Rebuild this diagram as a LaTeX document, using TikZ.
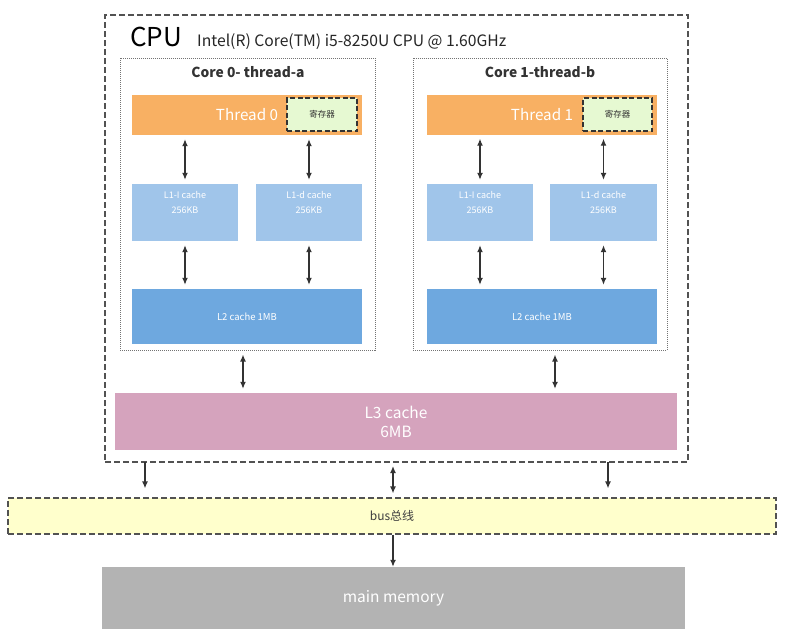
\documentclass[tikz,border=0pt]{standalone}
\usepackage{fontspec}
\setmainfont{Noto Sans CJK SC}
\usetikzlibrary{arrows.meta}

\definecolor{threadorange}{HTML}{F8B063}
\definecolor{regfill}{HTML}{E6F9D2}
\definecolor{lonecolor}{HTML}{A0C5EA}
\definecolor{ltwocolor}{HTML}{6EA8DF}
\definecolor{lthreecolor}{HTML}{D5A3BD}
\definecolor{busfill}{HTML}{FFFFCC}
\definecolor{memgray}{HTML}{B3B3B3}
\definecolor{linegray}{HTML}{333333}

\begin{document}
\begin{tikzpicture}[x=1pt, y=-1pt,
    box/.style={rectangle, inner sep=0pt, draw=none, text=white, align=center},
    corebox/.style={rectangle, inner sep=0pt, draw=black!55, line width=1pt, dash pattern=on 1pt off 1pt},
    regbox/.style={rectangle, inner sep=0pt, draw=linegray, fill=regfill, line width=1.4pt,
        dash pattern=on 5pt off 2.5pt, text=linegray, font=\fontsize{8.5}{10}\selectfont},
    link/.style={{Latex[length=7pt,width=6pt]}-{Latex[length=7pt,width=6pt]},
        line width=1.3pt, draw=linegray, shorten >=4pt, shorten <=4pt},
    down/.style={-{Latex[length=7pt,width=6pt]}, line width=1.3pt, draw=linegray},
    lonefont/.style={font=\fontsize{9}{15}\selectfont},
]
    \fill[white] (0,0) rectangle (786,641);
    \useasboundingbox (0,0) rectangle (786,641);

    % CPU package
    \node[rectangle, inner sep=0pt, draw=linegray!85, line width=1.2pt, dash pattern=on 6pt off 3pt,
        minimum width=583pt, minimum height=447pt] (cpu) at (396.5,238.5) {};
    \node[anchor=base west, inner sep=0pt, font=\fontsize{26}{28}\selectfont] (cpulabel) at (130,46) {CPU};
    \node[anchor=base west, inner sep=0pt, text=black!85, font=\fontsize{15.7}{17}\selectfont] (cpumodel) at (197,46) {Intel(R) Core(TM) i5-8250U CPU @ 1.60GHz};

    % cores
    \node[corebox, minimum width=255pt, minimum height=292pt] (core0) at (247.5,204) {};
    \node[corebox, minimum width=254pt, minimum height=292pt] (core1) at (540,204) {};
    \node[text=black!80, font=\bfseries\fontsize{13.8}{15}\selectfont] (core0title) at (248,72) {Core 0- thread-a};
    \node[text=black!80, font=\bfseries\fontsize{13.8}{15}\selectfont] (core1title) at (540,72) {Core 1-thread-b};

    \node[box, fill=threadorange, minimum width=230pt, minimum height=40pt, font=\fontsize{15.2}{17}\selectfont] (t0) at (247,115) {Thread 0};
    \node[box, fill=threadorange, minimum width=230pt, minimum height=40pt, font=\fontsize{15.2}{17}\selectfont] (t1) at (542,114.5) {Thread 1};
    \node[regbox, minimum width=70pt, minimum height=33pt] (reg0) at (322,114.5) {寄存器};
    \node[regbox, minimum width=69pt, minimum height=33pt] (reg1) at (617.5,114.5) {寄存器};

    \node[box, fill=lonecolor, minimum width=106pt, minimum height=57pt,
        label={[anchor=north, yshift=-4pt, text=white, align=center, lonefont]north:{L1-I cache\\256KB}}] (li0) at (185,212.5) {};
    \node[box, fill=lonecolor, minimum width=106pt, minimum height=57pt,
        label={[anchor=north, yshift=-4pt, text=white, align=center, lonefont]north:{L1-d cache\\256KB}}] (ld0) at (309,212.5) {};
    \node[box, fill=lonecolor, minimum width=106pt, minimum height=57pt,
        label={[anchor=north, yshift=-4pt, text=white, align=center, lonefont]north:{L1-I cache\\256KB}}] (li1) at (480,212.5) {};
    \node[box, fill=lonecolor, minimum width=107pt, minimum height=57pt,
        label={[anchor=north, yshift=-4pt, text=white, align=center, lonefont]north:{L1-d cache\\256KB}}] (ld1) at (603.5,212.5) {};

    \node[box, fill=ltwocolor, minimum width=230pt, minimum height=55pt, font=\fontsize{9.5}{11}\selectfont] (ltwo0) at (247,316.5) {L2 cache 1MB};
    \node[box, fill=ltwocolor, minimum width=230pt, minimum height=55pt, font=\fontsize{9.5}{11}\selectfont] (ltwo1) at (542,316.5) {L2 cache 1MB};

    \node[box, fill=lthreecolor, minimum width=562pt, minimum height=57pt, font=\fontsize{15.5}{19}\selectfont] (lthree) at (396,421.5) {L3 cache\\6MB};

    % bus and memory
    \node[rectangle, inner sep=0pt, draw=linegray!85, fill=busfill, line width=1.2pt, dash pattern=on 6pt off 3pt,
        minimum width=768pt, minimum height=36pt, text=black!75, font=\fontsize{12}{14}\selectfont] (bus) at (392,516) {bus总线};
    \node[box, fill=memgray, minimum width=583pt, minimum height=62pt, font=\fontsize{15.5}{17}\selectfont] (mem) at (393.5,598) {main memory};

    \draw[link] (t0.south -| li0) -- (li0.north);
    \draw[link] (t0.south -| ld0) -- (ld0.north);
    \draw[link] (t1.south -| li1) -- (li1.north);
    \draw[link] (t1.south -| ld1) -- (ld1.north);
    \draw[link] (li0.south) -- (li0.south |- ltwo0.north);
    \draw[link] (ld0.south) -- (ld0.south |- ltwo0.north);
    \draw[link] (li1.south) -- (li1.south |- ltwo1.north);
    \draw[link] (ld1.south) -- (ld1.south |- ltwo1.north);

    \coordinate (up0) at ([xshift=-4.5pt]core0.south);
    \coordinate (up1) at ([xshift=15pt]core1.south);
    \draw[link] (up0) -- (up0 |- lthree.north);
    \draw[link] (up1) -- (up1 |- lthree.north);

    \coordinate (busl) at (145,462);
    \coordinate (busr) at (608,462);
    \coordinate (busm) at (393,462);
    \draw[down, shorten >=9pt] (busl) -- (busl |- bus.north);
    \draw[down, shorten >=9pt] (busr) -- (busr |- bus.north);
    \draw[link] (busm) -- (busm |- bus.north);
    \draw[down] (bus.south -| busm) -- (busm |- mem.north);
\end{tikzpicture}
\end{document}
